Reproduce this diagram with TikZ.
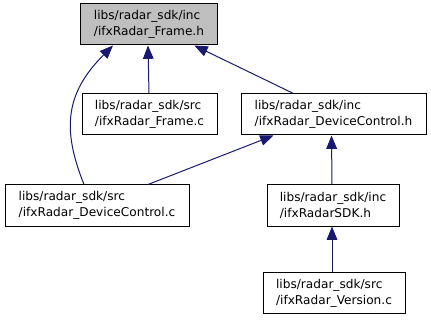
\documentclass[tikz,border=0pt]{standalone}
\usepackage{fontspec}
\setmainfont{DejaVu Sans}
\usetikzlibrary{arrows.meta}
\definecolor{edgeblue}{HTML}{191970}
\definecolor{rootfill}{HTML}{BFBFBF}
\begin{document}
\begin{tikzpicture}[x=0.75pt,y=-0.75pt,
  filebox/.style={draw=black,line width=0.75pt,fill=white,inner sep=0pt,
    font=\fontsize{9.1pt}{12pt}\selectfont,align=left,minimum height=30.75pt},
  dep/.style={draw=edgeblue,line width=0.75pt,
    -{Triangle[length=10pt,width=8pt]}}]
\useasboundingbox (0,0) rectangle (431,320);
% header being included and the files depending on it
\node[filebox,fill=rootfill,minimum width=102.75pt] (fh) at (149,24.5)
  {libs/radar\_sdk/inc\\/ifxRadar\_Frame.h};
\node[filebox,minimum width=101.25pt] (fc) at (149.5,114.5)
  {libs/radar\_sdk/src\\/ifxRadar\_Frame.c};
\node[filebox,minimum width=138.75pt] (dch) at (333.5,114.5)
  {libs/radar\_sdk/inc\\/ifxRadar\_DeviceControl.h};
\node[filebox,minimum width=138pt] (dcc) at (97,205.5)
  {libs/radar\_sdk/src\\/ifxRadar\_DeviceControl.c};
\node[filebox,minimum width=99pt] (sdk) at (333,205.5)
  {libs/radar\_sdk/inc\\/ifxRadarSDK.h};
\node[filebox,minimum width=106.5pt] (ver) at (334,293)
  {libs/radar\_sdk/src\\/ifxRadar\_Version.c};
% include edges
\draw[dep] ([xshift=-0.375pt]fc.north) -- ([xshift=-0.75pt]fh.south);
\draw[dep] ([xshift=-30pt]dch.north) -- ([xshift=34pt]fh.south);
\draw[dep] ([xshift=-9.75pt]dcc.north) .. controls +(-22,-55) and +(-48,48) .. ([xshift=-27pt]fh.south);
\draw[dep] ([xshift=38.25pt]dcc.north) -- ([xshift=-45pt]dch.south);
\draw[dep] ([xshift=-0.75pt]sdk.north) -- ([xshift=-1.5pt]dch.south);
\draw[dep] ([xshift=-1.5pt]ver.north) -- ([xshift=-0.75pt]sdk.south);
\end{tikzpicture}
\end{document}
